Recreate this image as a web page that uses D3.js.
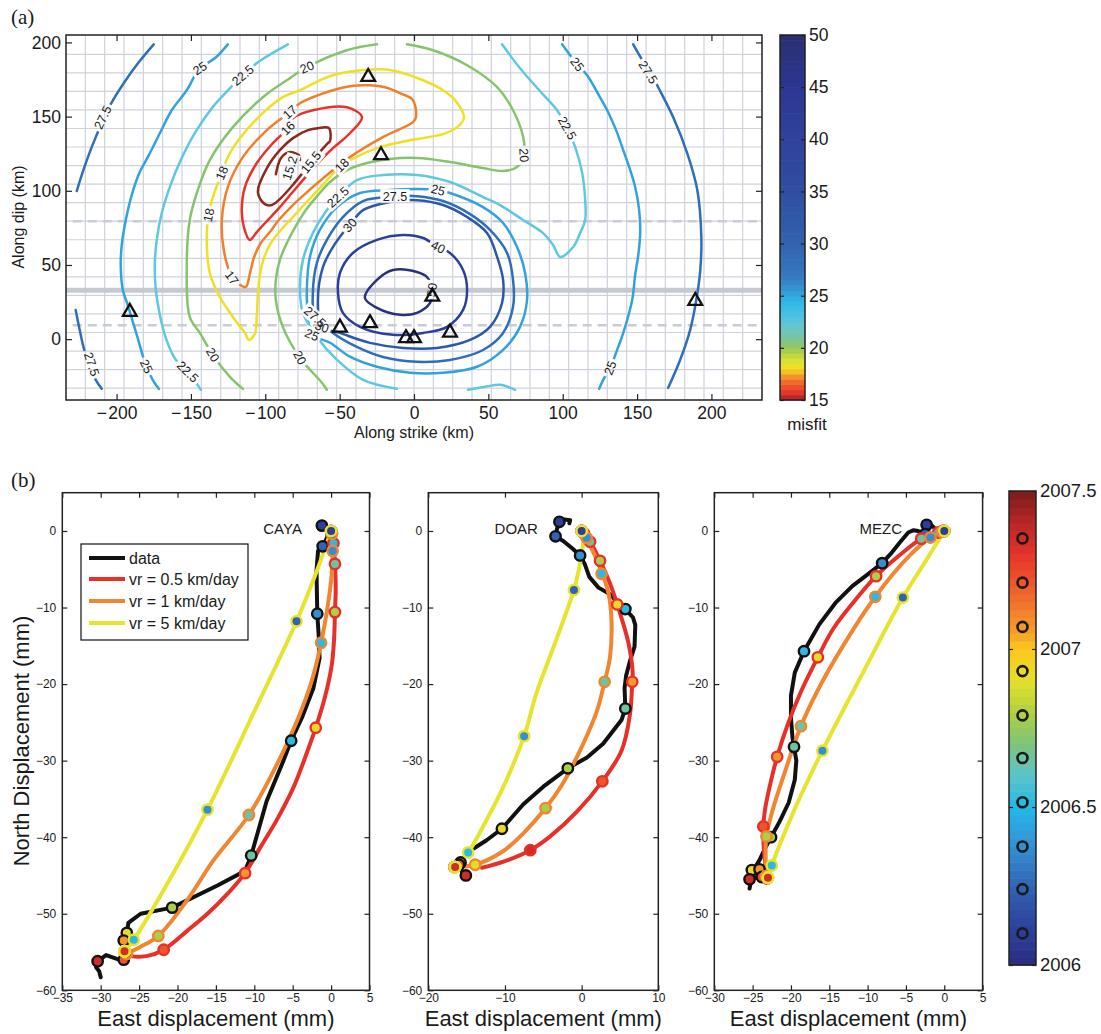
<!DOCTYPE html>
<html><head><meta charset="utf-8">
<script src="https://cdn.jsdelivr.net/npm/d3@7"></script>
<style>
body{margin:0;background:#fff}
svg{display:block}
text{font-family:"Liberation Sans",Arial,Helvetica,sans-serif}
</style>
</head><body>
<svg id="chart" width="1101" height="1034"></svg>
<script>
// ================= DATA: panel (a) =================
const xTicksA = [-200,-150,-100,-50,0,50,100,150,200];
const yTicksA = [0,50,100,150,200];
const misfitTicks = [15,20,25,30,35,40,45,50];
const misfitStops = [15,15.3,15.8,16.5,17,17.5,18,18.5,19.3,20,21,22,23,24.5,25.5,27,30,35,40,45,50];
const misfitColors = ['#8c1c1c','#c62828','#e53a2a','#ee5a2c','#f07c2c','#f4a82a','#f2dc26','#e6e42c','#c2d640','#96c65c','#78c49a','#68c6cc','#4cc2e4','#2db8e6','#3498d4','#3478c0','#3262ae','#304ea2','#2f429c','#2c3692','#2a3070'];
const faultDashed = [79.5, 9.4];
const faultSolid = 33;

const c275_a = [[-175.0,198.7],[-185.1,186.6],[-195.2,172.5],[-203.9,158.4],[-210.6,144.2],[-216.7,129.4],[-222.1,114.6],[-226.8,99.8]];
const c275_b = [[-227.5,19.7],[-224.8,6.3],[-222.1,-5.9],[-218.1,-18.0],[-214.0,-27.4],[-210.0,-33.4]];
const c275_c = [[147.4,198.7],[152.8,189.3],[158.8,179.9],[164.2,169.8],[174.3,149.6],[183.7,125.4],[190.5,100.5],[193.2,68.9],[192.5,46.6],[189.8,26.4],[185.7,6.3],[179.0,-13.9],[170.9,-32.8]];
const c275_loop = [[-12.8,96.4],[2.0,96.4],[19.5,93.1],[37.7,84.3],[51.1,73.6],[62.6,58.1],[66.6,39.9],[66.6,21.8],[59.9,4.2],[46.4,-7.3],[24.2,-14.0],[2.0,-15.3],[-20.9,-12.0],[-38.4,-5.2],[-54.5,4.2],[-66.6,15.0],[-68.0,31.2],[-65.3,51.4],[-58.6,66.9],[-47.8,82.3],[-34.3,93.1],[-24.9,95.1]];
const c25_a = [[-125.2,198.7],[-133.9,189.3],[-144.0,182.6],[-152.8,167.8],[-162.9,154.3],[-170.9,138.8],[-178.3,124.0],[-184.4,112.6],[-189.8,97.1],[-193.8,80.3],[-196.5,63.5],[-197.2,50.0],[-195.8,33.2],[-192.5,23.1],[-190.5,16.4],[-186.4,2.9],[-180.4,-17.3],[-175.7,-27.4],[-171.6,-33.5]];
const c25_b = [[99.6,198.7],[105.0,191.3],[109.7,185.3],[116.4,177.9],[123.2,166.4],[129.9,154.3],[135.9,140.9],[140.7,127.4],[145.4,113.9],[148.7,102.5],[151.4,87.0],[152.1,71.5],[150.8,56.7],[148.7,43.3],[146.7,26.4],[140.7,4.2],[136.6,-7.2],[131.9,-19.4],[127.2,-27.4],[124.5,-33.5]];
const c25_loop = [[16.2,100.5],[24.2,98.5],[46.4,89.0],[59.9,78.3],[69.3,62.1],[74.7,44.6],[76.0,26.4],[71.3,8.3],[59.9,-7.2],[42.4,-18.6],[19.5,-22.7],[-2.7,-22.7],[-24.9,-18.6],[-43.1,-11.8],[-56.5,-2.4],[-68.6,3.0],[-71.3,15.0],[-72.0,35.2],[-70.0,55.4],[-63.3,73.6],[-51.8,89.0],[-36.3,98.5],[-16.2,100.5],[2.0,101.2]];
const c225_a = [[-84.8,198.7],[-105.0,186.6],[-115.1,177.9],[-123.8,169.1],[-135.9,155.7],[-147.4,138.8],[-156.8,120.7],[-164.2,102.5],[-169.6,85.0],[-173.0,66.8],[-174.3,50.0],[-173.6,33.2],[-170.9,16.4],[-166.9,0.9],[-160.2,-13.9],[-152.1,-22.0],[-143.3,-34.1]];
const c225_b = [[59.2,198.7],[71.3,182.6],[84.8,167.1],[96.2,154.3],[103.0,142.2],[108.4,129.4],[113.1,111.9],[115.1,93.7],[115.1,80.3],[111.7,71.5],[107.0,62.1],[98.3,55.4],[93.5,63.5],[86.8,71.5],[73.4,80.3],[57.9,90.4],[46.4,95.8],[24.2,105.9],[2.0,110.6],[-20.9,110.6],[-38.4,107.2],[-51.1,95.8],[-58.6,87.0],[-68.0,71.5],[-74.7,53.4],[-76.7,35.2],[-74.7,17.7],[-65.3,1.5],[-51.8,-13.9],[-34.3,-27.4],[-11.4,-33.4]];
const c225_c = [[36.3,-34.1],[47.8,-32.1],[57.9,-30.7],[68.0,-34.1]];
const c20_a = [[-4.7,198.7],[12.8,194.7],[35.7,184.6],[55.9,169.8],[66.6,154.3],[73.4,136.2],[74.0,124.0],[69.3,116.0],[59.9,113.3],[46.4,115.3],[24.2,119.4],[2.0,122.1],[-16.2,121.4],[-36.3,117.4],[-46.4,113.3],[-56.5,105.9],[-64.6,97.1],[-72.7,87.0],[-79.4,76.3],[-85.5,64.8],[-90.2,53.4],[-92.9,39.9],[-92.9,26.4],[-88.2,8.3],[-76.7,-12.5],[-61.9,-29.4],[-58.6,-34.1]];
const c20_b = [[-24.9,198.7],[-45.1,194.7],[-72.0,183.3],[-85.5,174.5],[-101.6,163.1],[-121.8,142.9],[-137.3,120.7],[-145.4,100.5],[-150.8,80.3],[-152.8,48.7],[-150.8,15.0],[-144.0,4.2],[-135.3,-10.6],[-123.8,-25.4],[-115.1,-33.5]];
const c18_loop = [[-111.0,-0.5],[-107.0,3.6],[-105.7,16.4],[-105.0,29.8],[-103.6,43.3],[-100.9,54.7],[-96.2,64.8],[-89.5,73.6],[-82.1,81.6],[-73.4,91.1],[-64.6,100.5],[-56.5,109.3],[-48.5,117.3],[-36.3,124.0],[-22.9,129.4],[-2.7,134.1],[19.5,138.2],[29.0,142.9],[33.6,149.0],[27.6,161.1],[19.5,167.8],[6.1,174.5],[-9.4,179.9],[-20.9,181.9],[-54.5,177.9],[-76.7,167.8],[-88.2,163.1],[-108.4,145.6],[-123.8,125.4],[-129.2,112.0],[-135.9,93.7],[-138.0,83.7],[-139.3,71.5],[-137.3,44.6],[-130.6,28.5],[-121.8,15.0],[-113.7,4.2]];
const c17_loop = [[1.3,149.6],[-0.7,161.1],[-9.4,165.8],[-19.5,169.8],[-29.6,171.1],[-43.1,170.5],[-54.5,167.8],[-76.7,159.0],[-83.5,153.0],[-98.9,140.9],[-115.1,122.7],[-125.2,102.5],[-129.2,80.3],[-127.9,60.1],[-123.8,45.3],[-118.4,37.9],[-113.1,35.2],[-110.4,43.9],[-107.7,54.7],[-103.0,64.8],[-96.9,72.2],[-90.9,80.3],[-82.1,89.7],[-73.4,97.8],[-63.3,106.6],[-43.1,122.7],[-20.9,136.2],[-0.7,146.3]];
const c16_loop = [[-68.0,154.3],[-45.1,156.3],[-35.0,149.6],[-43.1,138.8],[-54.5,128.7],[-64.6,118.7],[-74.7,107.2],[-82.1,98.5],[-90.2,89.0],[-98.9,79.6],[-105.7,72.2],[-110.4,66.8],[-114.4,75.6],[-115.8,87.0],[-113.7,102.5],[-105.7,118.7],[-94.9,132.1],[-84.8,142.2],[-81.4,149.0]];
const c155_loop = [[-56.5,133.5],[-57.2,142.2],[-64.6,142.2],[-71.3,140.9],[-81.4,135.5],[-90.2,127.4],[-98.9,115.3],[-105.0,99.1],[-100.3,91.0],[-95.6,90.4],[-90.2,94.4],[-82.1,103.2],[-73.4,113.9],[-64.6,124.7],[-57.9,132.1]];
const c152_a = [[-92.9,111.2],[-89.5,122.0],[-84.1,126.0],[-77.4,124.0],[-76.7,120.7]];
const c30_loop = [[-43.1,76.9],[-34.3,87.0],[-16.2,92.4],[2.0,93.7],[19.5,90.4],[35.7,82.3],[49.1,71.5],[55.9,55.4],[59.9,39.9],[59.2,24.4],[51.1,8.3],[37.7,-0.5],[15.5,-5.9],[-7.4,-5.9],[-29.6,-2.5],[-49.8,4.2],[-61.9,8.3],[-64.6,26.4],[-61.2,48.7],[-54.5,62.1],[-47.8,71.5]];
const c40_loop = [[16.2,62.1],[24.2,58.1],[33.0,46.6],[35.7,33.2],[33.0,19.7],[22.2,8.3],[6.1,4.2],[-14.1,2.9],[-36.3,8.3],[-47.8,17.7],[-51.1,31.2],[-49.8,44.6],[-41.1,58.1],[-24.9,66.9],[-7.4,70.2],[6.1,68.2]];
const c50_loop = [[2.0,45.3],[-14.1,46.6],[-24.9,39.9],[-33.0,27.8],[-24.9,21.1],[-9.4,16.4],[2.0,17.7],[10.8,24.4],[12.1,33.2],[8.7,41.9]];

const contourLabels = [
  ['27.5',-209.3,149.5],['27.5',-216.7,-16.8],['27.5',157.5,179.9],['27.5',-12.8,96.4],['27.5',-66.6,15.0],
  ['25',-144.0,182.6],['25',-179.9,-18.4],['25',109.7,185.3],['25',131.9,-19.4],['25',16.2,100.5],['25',-68.6,3.0],
  ['22.5',-115.1,177.9],['22.5',-152.1,-22.0],['22.5',103.0,142.2],['22.5',-51.1,95.8],
  ['20',-72.0,183.3],['20',-135.3,-10.6],['20',74.0,124.0],['20',-76.7,-12.5],
  ['18',-48.5,117.3],['18',-129.2,112.0],['18',-138.0,83.7],
  ['17',-83.5,153.0],['17',-122.5,41.3],
  ['16',-84.8,142.2],['15.5',-69.3,119.2],['15.2',-83.5,115.3],
  ['30',-43.1,76.9],['30',-61.9,8.3],['40',16.2,62.1],['50',12.1,33.2]
];
const stationsA = [[-30.8,176.7],[-22.2,124.0],[-191.1,18.4],[-49.8,7.8],[-29.6,10.8],[-5.4,0.7],[0,0.7],[12.3,28.7],[24.2,4.4],[189.1,25.8]];

// ================= DATA: panel (b) =================
const yTicksB = [0,-10,-20,-30,-40,-50,-60];
const markerTimes = [2006.10,2006.24,2006.375,2006.515,2006.655,2006.79,2006.93,2007.07,2007.21,2007.35];
const timeTicks = [2006,2006.5,2007,2007.5];
const timeStops = [2006.0,2006.1,2006.2,2006.3,2006.4,2006.5,2006.6,2006.7,2006.8,2006.9,2007.0,2007.05,2007.1,2007.2,2007.3,2007.4,2007.5];
const timeColors = ['#2a2c80','#2d3e98','#2f56a8','#3276c0','#3498d6','#22b8e8','#5cc4c8','#7cc47c','#b0d040','#e4e02c','#fcc81e','#f6a028','#f18a2c','#ee5a2c','#e6332a','#b82626','#7a1c1c'];
const seriesNames = ['data','vr = 0.5 km/day','vr = 1 km/day','vr = 5 km/day'];

const cayaObs = [[-1.2,0.7],[-0.4,0.4],[-0.5,-0.8],[-1.1,-2.0],[-1.7,-2.6],[-1.9,-5.2],[-1.8,-10.8],[-1.6,-13.9],[-1.5,-16.6],[-2.3,-20.5],[-3.8,-24.4],[-5.2,-27.4],[-6.2,-30.0],[-8.4,-35.3],[-10.4,-42.4],[-11.2,-44.4],[-14.8,-46.3],[-20.7,-49.2],[-24.8,-50.0],[-26.4,-51.2],[-26.6,-52.5],[-27.0,-53.5],[-27.1,-55.0],[-27.0,-56.0],[-27.9,-55.9],[-29.3,-55.4],[-30.4,-56.2],[-30.6,-57.0],[-30.2,-57.5],[-30.0,-58.3]];
const cayaObsMk = [[-1.2,0.7],[-1.1,-2.0],[-1.8,-10.8],[-5.2,-27.4],[-10.4,-42.4],[-20.7,-49.2],[-26.6,-52.5],[-27.0,-53.5],[-27.0,-56.0],[-30.4,-56.2]];
const cayaV05 = [[0,0],[0.3,-1.6],[0.5,-4.3],[0.6,-7.5],[0.5,-10.6],[0.4,-13.9],[0.1,-17.4],[-0.8,-21.7],[-2.0,-25.7],[-3.2,-29.1],[-4.9,-33.5],[-7.1,-37.8],[-9.2,-41.3],[-11.2,-44.7],[-13.5,-47.4],[-16.1,-50.0],[-18.7,-52.2],[-21.8,-54.7],[-23.9,-55.5],[-26.1,-55.5],[-26.9,-55.0]];
const cayaV05Mk = [[0,0],[0,0],[0.1,-0.3],[0.3,-1.6],[0.5,-4.3],[0.5,-10.6],[-2.0,-25.7],[-11.2,-44.7],[-21.8,-54.7],[-26.9,-55.0]];
const cayaV1 = [[0,0],[0.2,-1.0],[0.2,-2.6],[0.0,-6.5],[-1.3,-14.6],[-2.5,-19.5],[-4.3,-24.5],[-6.8,-30.0],[-10.7,-37.1],[-15.3,-43.0],[-18.8,-48.3],[-22.5,-52.9],[-24.8,-54.3],[-26.6,-55.2]];
const cayaV1Mk = [[0,0],[0.1,-0.4],[0.2,-2.6],[-1.3,-14.6],[-10.7,-37.1],[-22.5,-52.9],[-26.6,-55.2],[-26.6,-55.2],[-26.6,-55.2],[-26.6,-55.2]];
const cayaV5 = [[0,0],[-1.7,-4.8],[-4.5,-11.8],[-10.2,-24.0],[-16.1,-36.4],[-21.0,-45.5],[-25.7,-53.4],[-26.9,-54.9]];
const cayaV5Mk = [[0,0],[-4.5,-11.8],[-16.1,-36.4],[-25.7,-53.4],[-26.9,-54.9],[-26.9,-54.9],[-26.9,-54.9],[-26.9,-54.9],[-26.9,-54.9],[-26.9,-54.9]];

const doarObs = [[-1.6,1.0],[-1.5,1.4],[-2.2,1.5],[-2.9,1.2],[-3.2,0.3],[-3.4,-0.7],[-2.4,-1.3],[-1.2,-2.3],[-0.2,-3.2],[0.4,-4.3],[1.0,-6.0],[2.2,-7.4],[3.6,-8.2],[4.6,-9.2],[5.7,-10.2],[6.7,-11.3],[7.0,-12.3],[6.9,-15.1],[6.3,-17.0],[5.8,-18.9],[5.6,-20.5],[5.7,-23.2],[5.2,-24.7],[2.8,-27.8],[0.7,-29.6],[-1.8,-31.0],[-5.0,-33.4],[-7.6,-35.7],[-10.4,-38.9],[-12.4,-40.4],[-14.6,-41.8],[-16.0,-43.4],[-15.6,-44.5],[-15.1,-45.0]];
const doarObsMk = [[-2.9,1.2],[-3.4,-0.7],[-0.2,-3.2],[5.7,-10.2],[5.7,-23.2],[-1.8,-31.0],[-10.4,-38.9],[-15.8,-43.3],[-16.0,-43.6],[-15.1,-45.0]];
const doarV05 = [[0,0],[1.1,-1.4],[2.4,-3.9],[3.6,-6.6],[4.65,-9.6],[6.1,-14.6],[6.65,-18.4],[6.6,-19.7],[6.3,-24.0],[5.2,-28.7],[2.7,-32.7],[-0.65,-36.7],[-4.1,-39.9],[-6.7,-41.7],[-10.2,-43.2],[-13.0,-44.0]];
const doarV05Mk = [[0,0],[0,0],[0,0],[0.3,-0.3],[1.1,-1.4],[2.4,-3.9],[4.65,-9.6],[6.6,-19.7],[2.7,-32.7],[-6.7,-41.7]];
const doarV1 = [[0,0],[0.9,-1.5],[2.4,-4.8],[3.5,-8.1],[3.9,-11.8],[3.7,-16.5],[3.0,-19.7],[2.0,-23.5],[0.2,-27.8],[-2.4,-32.9],[-4.7,-36.2],[-7.6,-39.5],[-10.2,-41.8],[-13.9,-43.6],[-16.6,-43.9]];
const doarV1Mk = [[0,0],[0.1,-0.1],[0.65,-0.9],[2.6,-5.6],[3.0,-19.7],[-4.7,-36.2],[-13.9,-43.6],[-16.6,-43.9],[-16.6,-43.9],[-16.6,-43.9]];
const doarV5 = [[0,0],[0.2,-1.5],[-0.4,-5.2],[-1.0,-7.7],[-3.3,-14.2],[-5.9,-21.2],[-7.5,-26.8],[-10.2,-33.4],[-12.8,-38.5],[-14.8,-42.0],[-16.5,-43.9]];
const doarV5Mk = [[0,0],[-1.0,-7.7],[-7.5,-26.8],[-14.8,-42.0],[-16.5,-43.9],[-16.5,-43.9],[-16.5,-43.9],[-16.5,-43.9],[-16.5,-43.9],[-16.5,-43.9]];

const mezcObs = [[-1.2,0.3],[-1.6,0.7],[-2.3,0.8],[-2.1,0.2],[-2.5,-0.4],[-3.4,0.0],[-4.0,0.1],[-4.7,-0.2],[-5.8,-1.5],[-7.0,-3.0],[-8.1,-4.2],[-9.9,-5.6],[-12.0,-7.2],[-14.2,-9.4],[-16.3,-12.2],[-18.3,-15.7],[-19.5,-18.5],[-20.0,-21.5],[-20.0,-24.5],[-19.8,-27.0],[-19.6,-28.2],[-19.3,-30.0],[-19.5,-32.5],[-20.3,-35.5],[-21.5,-38.0],[-22.6,-40.0],[-23.4,-41.5],[-24.1,-43.0],[-24.6,-43.8],[-25.1,-44.3],[-24.1,-44.2],[-23.8,-45.2],[-24.7,-45.3],[-25.4,-45.5],[-25.3,-46.2],[-25.4,-46.7]];
const mezcObsMk = [[-2.3,0.8],[-2.5,-0.4],[-8.1,-4.2],[-18.3,-15.7],[-19.6,-28.2],[-22.6,-40.0],[-25.1,-44.3],[-24.1,-44.2],[-23.8,-45.2],[-25.4,-45.5]];
const mezcV05 = [[0,0],[-0.8,-0.2],[-3.0,-1.0],[-6.0,-3.3],[-8.9,-5.9],[-12.0,-9.5],[-14.5,-12.8],[-16.5,-16.5],[-18.7,-21.0],[-20.5,-25.5],[-21.8,-29.5],[-22.8,-33.5],[-23.4,-36.5],[-23.6,-38.6],[-23.5,-42.0],[-23.1,-45.4]];
const mezcV05Mk = [[0,0],[0,0],[-0.2,0],[-0.8,-0.2],[-3.0,-1.0],[-8.9,-5.9],[-16.5,-16.5],[-21.8,-29.5],[-23.6,-38.6],[-23.1,-45.4]];
const mezcV1 = [[0,0],[-1.8,-0.85],[-4.5,-3.2],[-9.0,-8.6],[-13.5,-15.5],[-16.5,-20.8],[-18.7,-25.5],[-20.8,-31.5],[-22.4,-36.5],[-23.2,-39.9],[-23.3,-43.0],[-23.2,-45.1]];
const mezcV1Mk = [[0,0],[-0.3,-0.1],[-1.8,-0.85],[-9.0,-8.6],[-18.7,-25.5],[-23.2,-39.9],[-23.2,-45.1],[-23.2,-45.1],[-23.2,-45.1],[-23.2,-45.1]];
const mezcV5 = [[0,0],[-2.6,-4.2],[-5.4,-8.7],[-10.5,-18.3],[-15.9,-28.7],[-19.5,-36.3],[-22.5,-43.7],[-23.0,-45.3]];
const mezcV5Mk = [[0,0],[-5.4,-8.7],[-15.9,-28.7],[-22.5,-43.7],[-23.0,-45.3],[-23.0,-45.3],[-23.0,-45.3],[-23.0,-45.3],[-23.0,-45.3],[-23.0,-45.3]];

// ================= STYLE =================
const levelColor = {15.2:'#8c2a1e',15.5:'#8c2a1e',16:'#e6332a',17:'#f07f2c',18:'#f0e024',20:'#86c46c',22.5:'#5ec8e2',25:'#33a2dc',27.5:'#2f6eb8',30:'#2c58aa',40:'#2b3f9a',50:'#29317e'};
const seriesColors = ['#111111','#e8302a','#f08532','#e6e42e'];
const AX = '#222';

const svg = d3.select('#chart');
svg.append('rect').attr('width',1101).attr('height',1034).attr('fill','#fff');
const defs = svg.append('defs');

function styleAxis(g, fs){
  g.attr('font-size',null).attr('font-family',null);
  g.select('.domain').remove();
  g.selectAll('line').attr('stroke',AX).attr('stroke-width',1.2);
  g.selectAll('text').attr('fill','#1a1a1a').style('font-size',fs+'px');
}
const fmtA = d => d < 0 ? '\u2212\u200A' + Math.abs(d) : String(d);
const fmtB = d => d < 0 ? '\u2212' + Math.abs(d) : String(d);

// ================= PANEL (a) =================
const xA = d3.scaleLinear().domain([-234,234]).range([66,762]);
const yA = d3.scaleLinear().domain([-41,205]).range([400,35]);
defs.append('clipPath').attr('id','clipA').append('rect').attr('x',66).attr('y',35).attr('width',696).attr('height',365);

const gA = svg.append('g');
const gridG = gA.append('g').attr('clip-path','url(#clipA)');
d3.range(-221,222,13).forEach(v=>{
  gridG.append('line').attr('x1',xA(v)).attr('x2',xA(v)).attr('y1',35).attr('y2',400).attr('stroke','#cfd2dc').attr('stroke-width',1.2);
});
d3.range(-33,193,12.5).forEach(v=>{
  gridG.append('line').attr('x1',66).attr('x2',762).attr('y1',yA(v)).attr('y2',yA(v)).attr('stroke','#cfd2dc').attr('stroke-width',1.2);
});
gridG.append('line').attr('x1',xA(-234)).attr('x2',xA(234)).attr('y1',yA(faultSolid)).attr('y2',yA(faultSolid)).attr('stroke','#c6c9d0').attr('stroke-width',5);
faultDashed.forEach(v=>{
  gridG.append('line').attr('x1',xA(-229.5)).attr('x2',xA(234)).attr('y1',yA(v)).attr('y2',yA(v)).attr('stroke','#c8ccd4').attr('stroke-width',2.4).attr('stroke-dasharray','9,6');
});

const contourPieces = [
  {level:27.5,pts:c275_a},{level:27.5,pts:c275_b},{level:27.5,pts:c275_c},{level:27.5,pts:c275_loop,closed:true},
  {level:25,pts:c25_a},{level:25,pts:c25_b},{level:25,pts:c25_loop,closed:true},
  {level:22.5,pts:c225_a},{level:22.5,pts:c225_b},{level:22.5,pts:c225_c},
  {level:20,pts:c20_a},{level:20,pts:c20_b},
  {level:18,pts:c18_loop,closed:true},{level:17,pts:c17_loop,closed:true},{level:16,pts:c16_loop,closed:true},
  {level:15.5,pts:c155_loop,closed:true},{level:15.2,pts:c152_a},
  {level:30,pts:c30_loop,closed:true},{level:40,pts:c40_loop,closed:true},{level:50,pts:c50_loop,closed:true}
];

const lblG = gA.append('g').attr('clip-path','url(#clipA)');
function segDist(px,py,a,b){
  const dx=b[0]-a[0], dy=b[1]-a[1]; const L=dx*dx+dy*dy;
  let t = L? ((px-a[0])*dx+(py-a[1])*dy)/L : 0; t=Math.max(0,Math.min(1,t));
  const qx=a[0]+t*dx-px, qy=a[1]+t*dy-py; return qx*qx+qy*qy;
}
function labelAngle(level,px,py){
  let best=null, bd=1e12;
  contourPieces.filter(p=>p.level===level).forEach(p=>{
    const pts=p.pts.map(d=>[xA(d[0]),yA(d[1])]);
    const n = p.closed? pts.length : pts.length-1;
    for(let i=0;i<n;i++){
      const a=pts[i], b=pts[(i+1)%pts.length];
      const d=segDist(px,py,a,b); if(d<bd){bd=d;best=[a,b];}
    }
  });
  let ang=Math.atan2(best[1][1]-best[0][1], best[1][0]-best[0][0])*180/Math.PI;
  if(ang>90) ang-=180; if(ang<-90) ang+=180; return ang;
}
const mask = defs.append('mask').attr('id','lblMask').attr('maskUnits','userSpaceOnUse').attr('x',0).attr('y',0).attr('width',1101).attr('height',1034);
mask.append('rect').attr('x',0).attr('y',0).attr('width',1101).attr('height',1034).attr('fill','#fff');
contourLabels.forEach(([t,x,y])=>{
  const px=xA(x), py=yA(y), ang=labelAngle(+t,px,py);
  const tx = lblG.append('text').attr('transform',`translate(${px},${py}) rotate(${ang})`)
    .attr('text-anchor','middle').attr('dy','0.35em').attr('fill','#1a1a1a').style('font-size','12.5px').text(t);
  const w = tx.node().getComputedTextLength()+5;
  mask.append('rect').attr('x',-w/2).attr('y',-7).attr('width',w).attr('height',14).attr('fill','#000')
    .attr('transform',`translate(${px},${py}) rotate(${ang})`);
});

const cG = gA.insert('g', () => lblG.node()).attr('clip-path','url(#clipA)').append('g').attr('mask','url(#lblMask)');
contourPieces.forEach(p=>{
  const line = d3.line().x(d=>xA(d[0])).y(d=>yA(d[1]))
    .curve(p.closed? d3.curveCatmullRomClosed.alpha(0.5) : d3.curveCatmullRom.alpha(0.5));
  cG.append('path').attr('d',line(p.pts)).attr('fill','none').attr('stroke',levelColor[p.level])
    .attr('stroke-width',2.5).attr('stroke-linejoin','round').attr('stroke-linecap','round');
});

stationsA.forEach(([x,y])=>{
  gA.append('path').attr('d',d3.symbol().type(d3.symbolTriangle).size(82)())
    .attr('transform',`translate(${xA(x)},${yA(y)})`).attr('fill','none').attr('stroke','#111').attr('stroke-width',2.3);
});

styleAxis(gA.append('g').attr('transform','translate(0,400)').call(d3.axisBottom(xA).tickValues(xTicksA).tickSize(-6).tickPadding(7).tickFormat(fmtA)),17.5);
styleAxis(gA.append('g').attr('transform','translate(0,35)').call(d3.axisTop(xA).tickValues(xTicksA).tickSize(-6).tickFormat('')),17.5);
styleAxis(gA.append('g').attr('transform','translate(66,0)').call(d3.axisLeft(yA).tickValues(yTicksA).tickSize(-6).tickPadding(5).tickFormat(fmtA)),17.5);
styleAxis(gA.append('g').attr('transform','translate(762,0)').call(d3.axisRight(yA).tickValues(yTicksA).tickSize(-6).tickFormat('')),17.5);
gA.append('rect').attr('x',66).attr('y',35).attr('width',696).attr('height',365).attr('fill','none').attr('stroke',AX).attr('stroke-width',1.5);
gA.append('text').attr('x',414).attr('y',438).attr('text-anchor','middle').style('font-size','16px').attr('fill','#1a1a1a').text('Along strike (km)');
gA.append('text').attr('transform','translate(24,217) rotate(-90)').attr('text-anchor','middle').style('font-size','16px').attr('fill','#1a1a1a').text('Along dip (km)');
svg.append('text').attr('x',11).attr('y',24).style('font-family','"Liberation Serif","Times New Roman",serif').style('font-size','21px').attr('fill','#1a1a1a').text('(a)');

const misfitScale = d3.scaleLinear().domain(misfitStops).range(misfitColors).interpolate(d3.interpolateRgb).clamp(true);
const cbA = d3.scaleLinear().domain([15,50]).range([400,35]);
const cbAG = svg.append('g');
d3.range(15,50,0.5).forEach(v=>{
  cbAG.append('rect').attr('x',780).attr('width',25).attr('y',cbA(v+0.5)).attr('height',cbA(v)-cbA(v+0.5)+0.6).attr('fill',misfitScale(v+0.25));
});
cbAG.append('rect').attr('x',780).attr('y',35).attr('width',25).attr('height',365).attr('fill','none').attr('stroke',AX).attr('stroke-width',1.5);
styleAxis(cbAG.append('g').attr('transform','translate(805,0)').call(d3.axisRight(cbA).tickValues(misfitTicks).tickSize(-4).tickPadding(4).tickFormat(d3.format('d'))),17.5);
styleAxis(cbAG.append('g').attr('transform','translate(780,0)').call(d3.axisLeft(cbA).tickValues(misfitTicks).tickSize(-4).tickFormat('')),17.5);
cbAG.append('text').attr('x',807).attr('y',430).attr('text-anchor','middle').style('font-size','17px').attr('fill','#1a1a1a').text('misfit');

// ================= PANEL (b) =================
svg.append('text').attr('x',11).attr('y',487).style('font-family','"Liberation Serif","Times New Roman",serif').style('font-size','21px').attr('fill','#1a1a1a').text('(b)');
const yB = d3.scaleLinear().domain([-60,5]).range([990.3,492.7]);
const timeColor = d3.scaleLinear().domain(timeStops).range(timeColors).interpolate(d3.interpolateRgb).clamp(true);

const panels = [
  {name:'CAYA', xd:[-35,5], xr:[62.3,369.5], xt:[-35,-30,-25,-20,-15,-10,-5,0,5], lbl:[-3.8,-0.35],
   series:[[cayaObs,cayaObsMk],[cayaV05,cayaV05Mk],[cayaV1,cayaV1Mk],[cayaV5,cayaV5Mk]], legend:true},
  {name:'DOAR', xd:[-20,10], xr:[428.3,658.3], xt:[-20,-10,0,10], lbl:[-5.7,-0.35],
   series:[[doarObs,doarObsMk],[doarV05,doarV05Mk],[doarV1,doarV1Mk],[doarV5,doarV5Mk]]},
  {name:'MEZC', xd:[-30,5], xr:[714.3,982.6], xt:[-30,-25,-20,-15,-10,-5,0,5], lbl:[-5.5,-0.35],
   series:[[mezcObs,mezcObsMk],[mezcV05,mezcV05Mk],[mezcV1,mezcV1Mk],[mezcV5,mezcV5Mk]]}
];

panels.forEach((P,pi)=>{
  const xs = d3.scaleLinear().domain(P.xd).range(P.xr);
  const g = svg.append('g');
  const cid='clipB'+pi;
  defs.append('clipPath').attr('id',cid).append('rect').attr('x',P.xr[0]).attr('y',492.7).attr('width',P.xr[1]-P.xr[0]).attr('height',990.3-492.7);
  const pg = g.append('g').attr('clip-path',`url(#${cid})`);
  P.series.forEach(([path,mk],si)=>{
    const line = d3.line().x(d=>xs(d[0])).y(d=>yB(d[1])).curve(si===0? d3.curveLinear : d3.curveCatmullRom.alpha(0.5));
    pg.append('path').attr('d',line(path)).attr('fill','none').attr('stroke',seriesColors[si]).attr('stroke-width',4)
      .attr('stroke-linejoin','round').attr('stroke-linecap','round');
  });
  P.series.forEach(([path,mk],si)=>{
    mk.forEach((d,i)=>{
      pg.append('circle').attr('cx',xs(d[0])).attr('cy',yB(d[1])).attr('r',5.2)
        .attr('fill',timeColor(markerTimes[i])).attr('stroke',seriesColors[si]).attr('stroke-width',2.4);
    });
  });
  g.append('text').attr('x',xs(P.lbl[0])).attr('y',yB(P.lbl[1])).attr('text-anchor','end').style('font-size','15px').attr('fill','#1a1a1a').text(P.name);
  styleAxis(g.append('g').attr('transform','translate(0,990.3)').call(d3.axisBottom(xs).tickValues(P.xt).tickSize(-5).tickPadding(3).tickFormat(fmtB)),12);
  styleAxis(g.append('g').attr('transform','translate(0,492.7)').call(d3.axisTop(xs).tickValues(P.xt).tickSize(-5).tickFormat('')),12);
  styleAxis(g.append('g').attr('transform',`translate(${P.xr[0]},0)`).call(d3.axisLeft(yB).tickValues(yTicksB).tickSize(-5).tickPadding(6).tickFormat(fmtB)),12);
  styleAxis(g.append('g').attr('transform',`translate(${P.xr[1]},0)`).call(d3.axisRight(yB).tickValues(yTicksB).tickSize(-5).tickFormat('')),12);
  g.append('rect').attr('x',P.xr[0]).attr('y',492.7).attr('width',P.xr[1]-P.xr[0]).attr('height',990.3-492.7).attr('fill','none').attr('stroke',AX).attr('stroke-width',1.5);
  g.append('text').attr('x',(P.xr[0]+P.xr[1])/2).attr('y',1025.5).attr('text-anchor','middle').style('font-size','22px').attr('fill','#1a1a1a').text('East displacement (mm)');
  if(P.legend){
    const lg = g.append('g');
    lg.append('rect').attr('x',81).attr('y',544).attr('width',167).attr('height',96).attr('fill','#fff').attr('stroke','#111').attr('stroke-width',1.2);
    const ly=[558,579,601,623];
    seriesNames.forEach((n,i)=>{
      lg.append('line').attr('x1',89).attr('x2',125).attr('y1',ly[i]).attr('y2',ly[i]).attr('stroke',seriesColors[i]).attr('stroke-width',4);
      lg.append('text').attr('x',129).attr('y',ly[i]+5.5).style('font-size','16px').attr('fill','#1a1a1a').text(n);
    });
  }
});
svg.append('text').attr('transform','translate(29,741) rotate(-90)').attr('text-anchor','middle').style('font-size','22px').attr('fill','#1a1a1a').text('North Displacement (mm)');

const tS = d3.scaleLinear().domain([2006,2007.5]).range([965,491]);
const cbB = svg.append('g');
d3.range(2006,2007.5,0.025).forEach(v=>{
  cbB.append('rect').attr('x',1009).attr('width',27).attr('y',tS(v+0.025)).attr('height',tS(v)-tS(v+0.025)+0.6).attr('fill',timeColor(v+0.0125));
});
cbB.append('rect').attr('x',1009).attr('y',491).attr('width',27).attr('height',474).attr('fill','none').attr('stroke',AX).attr('stroke-width',1.5);
styleAxis(cbB.append('g').attr('transform','translate(1036,0)').call(d3.axisRight(tS).tickValues(timeTicks).tickSize(-4).tickPadding(4).tickFormat(d=>String(d))),18.5);
styleAxis(cbB.append('g').attr('transform','translate(1009,0)').call(d3.axisLeft(tS).tickValues(timeTicks).tickSize(-4).tickFormat('')),18.5);
markerTimes.forEach(t=>{
  cbB.append('circle').attr('cx',1022.5).attr('cy',tS(t)).attr('r',5).attr('fill',timeColor(t)).attr('stroke','#1a1a1a').attr('stroke-width',2.6);
});
</script>
</body></html>
